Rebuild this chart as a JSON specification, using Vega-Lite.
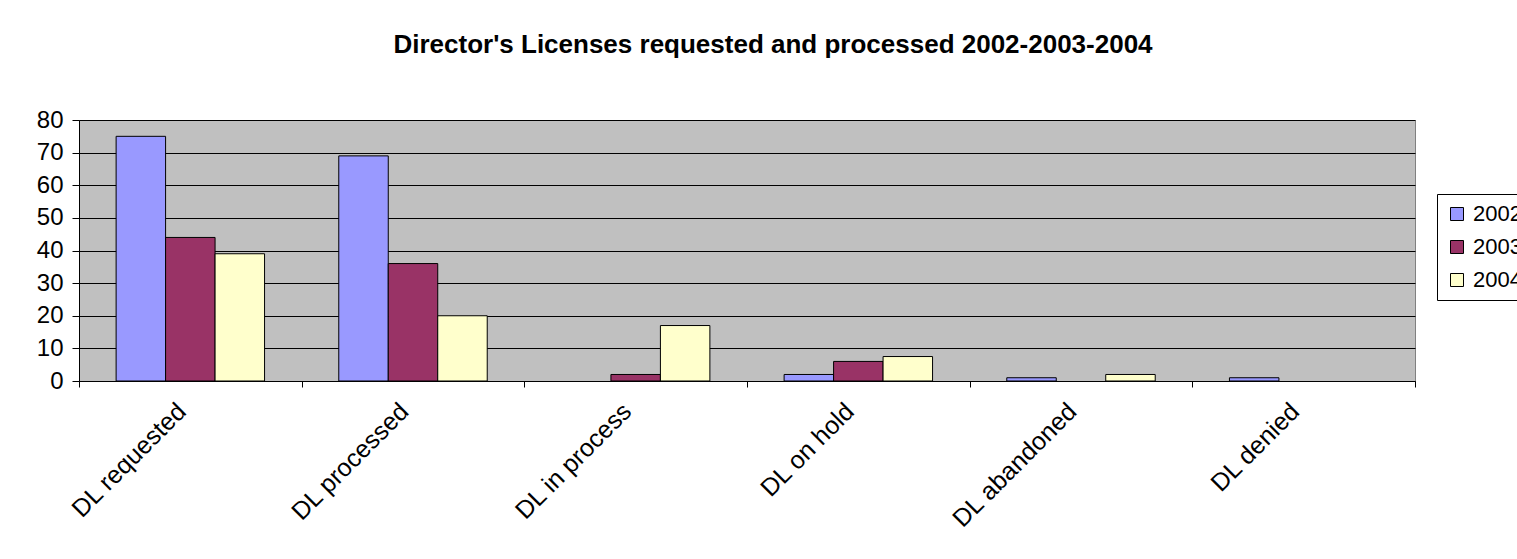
{
  "$schema": "https://vega.github.io/schema/vega-lite/v6.json",
  "autosize": "none",
  "width": 1336,
  "height": 261,
  "padding": {"left": 79, "top": 120, "right": 102, "bottom": 178},
  "background": "white",
  "title": {
    "text": "Director's Licenses requested and processed 2002-2003-2004",
    "font": "Liberation Sans",
    "fontSize": 26,
    "fontWeight": "bold",
    "color": "black",
    "anchor": "middle",
    "dx": 26,
    "offset": 50
  },
  "data": {
    "values": [
      {"category": "DL requested", "year": "2002", "value": 75},
      {"category": "DL requested", "year": "2003", "value": 44},
      {"category": "DL requested", "year": "2004", "value": 39},
      {"category": "DL processed", "year": "2002", "value": 69},
      {"category": "DL processed", "year": "2003", "value": 36},
      {"category": "DL processed", "year": "2004", "value": 20},
      {"category": "DL in process", "year": "2002", "value": 0},
      {"category": "DL in process", "year": "2003", "value": 2},
      {"category": "DL in process", "year": "2004", "value": 17},
      {"category": "DL on hold", "year": "2002", "value": 2},
      {"category": "DL on hold", "year": "2003", "value": 6},
      {"category": "DL on hold", "year": "2004", "value": 7.5},
      {"category": "DL abandoned", "year": "2002", "value": 1},
      {"category": "DL abandoned", "year": "2003", "value": 0},
      {"category": "DL abandoned", "year": "2004", "value": 2},
      {"category": "DL denied", "year": "2002", "value": 1},
      {"category": "DL denied", "year": "2003", "value": 0},
      {"category": "DL denied", "year": "2004", "value": 0}
    ]
  },
  "transform": [{"filter": "datum.value > 0"}],
  "mark": {"type": "bar", "stroke": "black", "strokeWidth": 1},
  "encoding": {
    "x": {
      "field": "category",
      "type": "nominal",
      "sort": ["DL requested", "DL processed", "DL in process", "DL on hold", "DL abandoned", "DL denied"],
      "title": null,
      "scale": {"paddingInner": 0, "paddingOuter": 0},
      "axis": {
        "tickBand": "extent",
        "labelAngle": -45,
        "labelAlign": "right",
        "labelBaseline": "middle",
        "labelPadding": 20,
        "labelOffset": -9,
        "labelFont": "Liberation Sans",
        "labelFontSize": 25,
        "labelColor": "black",
        "tickColor": "black",
        "tickSize": 6,
        "domainColor": "black",
        "grid": false
      }
    },
    "xOffset": {
      "field": "year",
      "type": "nominal",
      "scale": {"domain": ["2002", "2003", "2004"], "paddingInner": 0, "paddingOuter": 0.75}
    },
    "y": {
      "field": "value",
      "type": "quantitative",
      "title": null,
      "scale": {"domain": [0, 80], "nice": false},
      "axis": {
        "values": [0, 10, 20, 30, 40, 50, 60, 70, 80],
        "labelFont": "Liberation Sans",
        "labelFontSize": 24,
        "labelColor": "black",
        "labelPadding": 9,
        "tickColor": "black",
        "tickSize": 7,
        "domainColor": "black",
        "grid": true,
        "gridColor": "black",
        "gridOpacity": 1,
        "gridWidth": 1
      }
    },
    "color": {
      "field": "year",
      "type": "nominal",
      "title": null,
      "scale": {"domain": ["2002", "2003", "2004"], "range": ["#9999FF", "#993366", "#FFFFCC"]},
      "legend": {
        "orient": "none",
        "legendX": 1358,
        "legendY": 74,
        "symbolType": "square",
        "symbolSize": 169,
        "symbolStrokeColor": "black",
        "symbolStrokeWidth": 1,
        "symbolOpacity": 1,
        "labelFont": "Liberation Sans",
        "labelFontSize": 22,
        "labelColor": "black",
        "labelOffset": 5,
        "rowPadding": 11,
        "strokeColor": "black",
        "padding": 9,
        "fillColor": "white"
      }
    }
  },
  "config": {
    "view": {"fill": "#C0C0C0", "stroke": "#808080", "strokeWidth": 1},
    "axis": {"domainWidth": 1, "tickWidth": 1}
  }
}
